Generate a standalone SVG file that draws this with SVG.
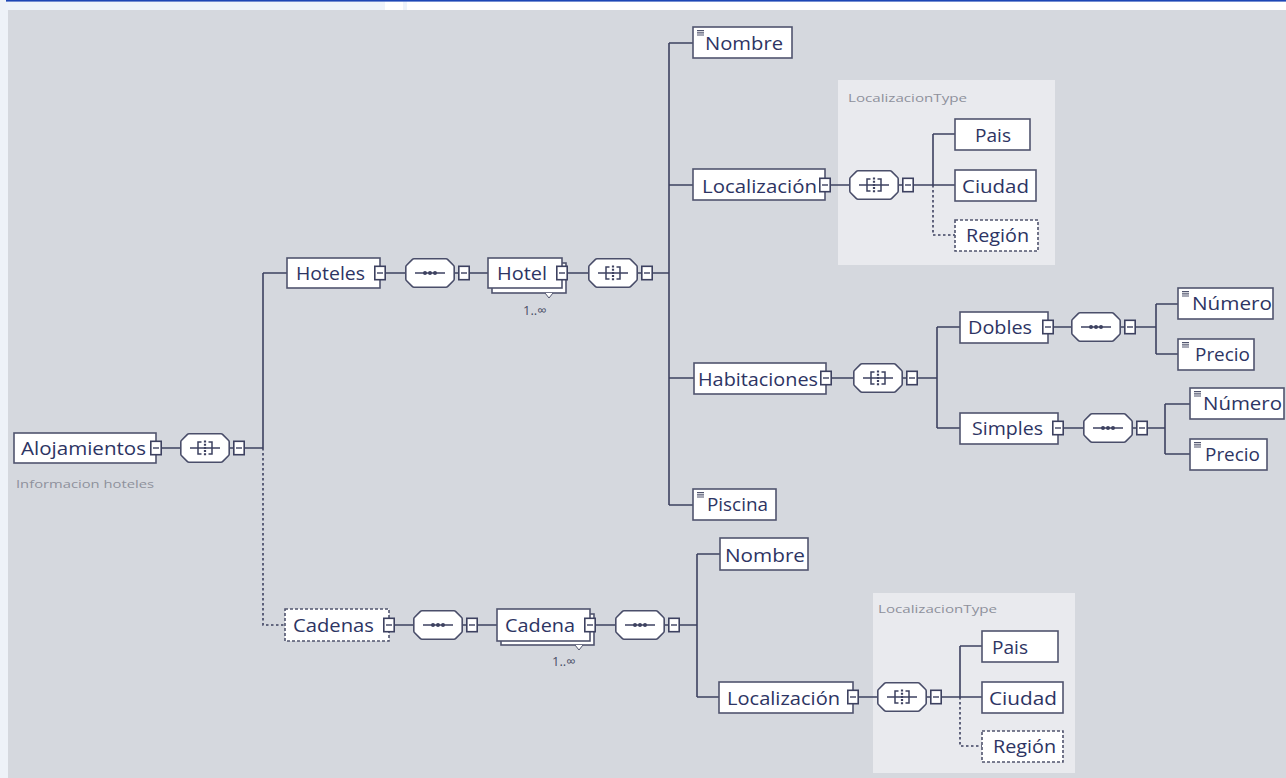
<svg xmlns="http://www.w3.org/2000/svg" xmlns:xlink="http://www.w3.org/1999/xlink" width="1286" height="778" viewBox="0 0 1286 778">
<style>
.bx{fill:#fff;stroke:#50546e;stroke-width:1.6}
.dbx{fill:#fff;stroke:#50546e;stroke-width:1.6;stroke-dasharray:3 2}
.t{font-family:"Open Sans","Noto Sans",sans-serif;font-size:19px;fill:#2d3463}
.sm{font-family:"Open Sans","Noto Sans",sans-serif;font-size:11px;fill:#8e919c}
.mult{font-family:"Open Sans","Noto Sans",sans-serif;font-size:13px;fill:#4a4e66}
.cn{fill:none;stroke:#3d4160;stroke-width:1.6}
.dc{fill:none;stroke:#3d4160;stroke-width:1.6;stroke-dasharray:2.5 2.5}
.oct{fill:#fff;stroke:#4a4e6a;stroke-width:1.6;stroke-linejoin:round}
</style>
<defs>
<symbol id="col" viewBox="0 0 12 15" overflow="visible">
<rect x="0.8" y="0.8" width="10.4" height="13.4" fill="#fff" stroke="#3d4160" stroke-width="1.6"/>
<line x1="3" y1="7.5" x2="9" y2="7.5" stroke="#3d4160" stroke-width="1.4"/>
</symbol>
<symbol id="seq" viewBox="0 0 50 30" overflow="visible">
<path class="oct" d="M9 0.8 H41 Q42 0.8 42.8 1.6 L48.4 7.2 Q49.2 8 49.2 9 V21 Q49.2 22 48.4 22.8 L42.8 28.4 Q42 29.2 41 29.2 H9 Q8 29.2 7.2 28.4 L1.6 22.8 Q0.8 22 0.8 21 V9 Q0.8 8 1.6 7.2 L7.2 1.6 Q8 0.8 9 0.8 Z"/>
<line x1="10" y1="15" x2="40" y2="15" stroke="#3d4160" stroke-width="1.5"/>
<circle cx="20" cy="15" r="2" fill="#3d4160"/><circle cx="25" cy="15" r="2" fill="#3d4160"/><circle cx="30" cy="15" r="2" fill="#3d4160"/>
</symbol>
<symbol id="all" viewBox="0 0 50 30" overflow="visible">
<path class="oct" d="M9 0.8 H41 Q42 0.8 42.8 1.6 L48.4 7.2 Q49.2 8 49.2 9 V21 Q49.2 22 48.4 22.8 L42.8 28.4 Q42 29.2 41 29.2 H9 Q8 29.2 7.2 28.4 L1.6 22.8 Q0.8 22 0.8 21 V9 Q0.8 8 1.6 7.2 L7.2 1.6 Q8 0.8 9 0.8 Z"/>
<line x1="10" y1="15" x2="40" y2="15" stroke="#3d4160" stroke-width="1.5"/>
<path d="M21.5 9 H18 V21 H21.5 M28.5 9 H32 V21 H28.5" fill="none" stroke="#3d4160" stroke-width="1.5"/>
<line x1="25" y1="7.5" x2="25" y2="22.5" stroke="#3d4160" stroke-width="2.2" stroke-dasharray="2 1.2"/>
</symbol>
<symbol id="sim" viewBox="0 0 7 6" overflow="visible">
<path d="M0 0.6 H7 M0 2.8 H7 M0 5 H7" stroke="#50546e" stroke-width="1.2"/>
</symbol>
</defs>

<rect x="0" y="0" width="1286" height="778" fill="#fff"/>
<rect x="0" y="0" width="8" height="778" fill="#eef2f8"/>
<rect x="6" y="1.5" width="379" height="8.5" fill="#eef3fa"/>
<rect x="403" y="1.5" width="4" height="8.5" fill="#eef3fa"/>
<rect x="6" y="0" width="1280" height="1.6" fill="#1d46b5"/>
<rect x="8" y="10" width="1278" height="768" fill="#d5d8de"/>

<rect x="838" y="80" width="217" height="185" fill="#e9eaee"/>
<text class="sm" x="848" y="102" textLength="119" lengthAdjust="spacingAndGlyphs">LocalizacionType</text>
<rect x="873" y="593" width="202" height="180" fill="#e9eaee"/>
<text class="sm" x="878" y="613" textLength="119" lengthAdjust="spacingAndGlyphs">LocalizacionType</text>

<g id="connectors">
<path class="cn" d="M162 448 H180 M230 448 H233 M245 448 H263 M263 273 V448 M263 273 H287"/>
<path class="dc" d="M263 448 V625 H285"/>
<path class="cn" d="M386 273 H405 M455 273 H458 M470 273 H488 M568 273 H588 M638 273 H641 M653 273 H669 M669 43 V505 M669 43 H693 M669 185 H693 M669 378 H694 M669 505 H693"/>
<path class="cn" d="M831 185 H849 M899 185 H902 M914 185 H933 M933 134 V185 M933 134 H955 M933 185 H955"/>
<path class="dc" d="M933 185 V235 H955"/>
<path class="cn" d="M832 378 H853 M903 378 H906 M918 378 H937 M937 327 V428 M937 327 H960 M937 428 H960"/>
<path class="cn" d="M1054 327 H1071 M1121 327 H1124 M1136 327 H1156 M1156 304 V354 M1156 304 H1178 M1156 354 H1178"/>
<path class="cn" d="M1064 428 H1083 M1133 428 H1136 M1148 428 H1165 M1165 404 V454 M1165 404 H1190 M1165 454 H1190"/>
<path class="cn" d="M395 625 H413 M463 625 H466 M478 625 H497 M596 625 H615 M665 625 H668 M680 625 H697 M697 554 V697 M697 554 H720 M697 697 H719"/>
<path class="cn" d="M859 697 H877 M927 697 H930 M942 697 H960 M960 646 V697 M960 646 H982 M960 697 H982"/>
<path class="dc" d="M960 697 V746 H982"/>
</g>

<g id="n-alojamientos">
<rect class="bx" x="14" y="433" width="142" height="30"/>
<text class="t" x="21" y="455" textLength="125" lengthAdjust="spacingAndGlyphs">Alojamientos</text>
<use href="#col" x="150" y="440.5" width="12" height="15"/>
<text class="sm" x="16" y="488" textLength="138" lengthAdjust="spacingAndGlyphs">Informacion hoteles</text>
</g>
<g id="c-alojamientos"><use href="#all" x="180" y="433" width="50" height="30"/><use href="#col" x="233" y="440.5" width="12" height="15"/></g>

<g id="n-hoteles">
<rect class="bx" x="287" y="258" width="93" height="30"/>
<text class="t" x="296" y="280" textLength="69" lengthAdjust="spacingAndGlyphs">Hoteles</text>
<use href="#col" x="374" y="265.5" width="12" height="15"/>
</g>
<g id="c-hoteles"><use href="#seq" x="405" y="258" width="50" height="30"/><use href="#col" x="458" y="265.5" width="12" height="15"/></g>

<g id="n-hotel">
<rect class="bx" x="492" y="263" width="74" height="30"/>
<rect class="bx" x="488" y="258" width="74" height="30"/>
<text class="t" x="497" y="280" textLength="50" lengthAdjust="spacingAndGlyphs">Hotel</text>
<use href="#col" x="556" y="265.5" width="12" height="15"/>
<path d="M545 293 L549 298 L553 293" fill="#fff" stroke="#50546e" stroke-width="1"/>
<text class="mult" x="523" y="315">1..∞</text>
</g>
<g id="c-hotel"><use href="#all" x="588" y="258" width="50" height="30"/><use href="#col" x="641" y="265.5" width="12" height="15"/></g>

<g id="n-nombre">
<rect class="bx" x="693" y="27" width="99" height="31"/>
<use href="#sim" x="697" y="30" width="7" height="6"/>
<text class="t" x="705" y="50" textLength="78" lengthAdjust="spacingAndGlyphs">Nombre</text>
</g>

<g id="n-localizacion">
<rect class="bx" x="693" y="169" width="132" height="31"/>
<text class="t" x="702" y="193" textLength="115" lengthAdjust="spacingAndGlyphs">Localización</text>
<use href="#col" x="819" y="177.5" width="12" height="15"/>
</g>
<g id="c-localizacion"><use href="#all" x="849" y="170" width="50" height="30"/><use href="#col" x="902" y="177.5" width="12" height="15"/></g>
<g id="n-pais"><rect class="bx" x="955" y="119" width="75" height="31"/><text class="t" x="975" y="142" textLength="36" lengthAdjust="spacingAndGlyphs">Pais</text></g>
<g id="n-ciudad"><rect class="bx" x="955" y="170" width="81" height="31"/><text class="t" x="962" y="193" textLength="67" lengthAdjust="spacingAndGlyphs">Ciudad</text></g>
<g id="n-region"><rect class="dbx" x="955" y="220" width="83" height="31"/><text class="t" x="966" y="242" textLength="63" lengthAdjust="spacingAndGlyphs">Región</text></g>

<g id="n-habitaciones">
<rect class="bx" x="694" y="363" width="132" height="31"/>
<text class="t" x="698" y="386" textLength="120" lengthAdjust="spacingAndGlyphs">Habitaciones</text>
<use href="#col" x="820" y="370.5" width="12" height="15"/>
</g>
<g id="c-habitaciones"><use href="#all" x="853" y="363" width="50" height="30"/><use href="#col" x="906" y="370.5" width="12" height="15"/></g>

<g id="n-dobles">
<rect class="bx" x="960" y="312" width="88" height="31"/>
<text class="t" x="968" y="334" textLength="64" lengthAdjust="spacingAndGlyphs">Dobles</text>
<use href="#col" x="1042" y="319.5" width="12" height="15"/>
</g>
<g id="c-dobles"><use href="#seq" x="1071" y="312" width="50" height="30"/><use href="#col" x="1124" y="319.5" width="12" height="15"/></g>
<g id="n-numero1"><rect class="bx" x="1178" y="288" width="95" height="31"/><use href="#sim" x="1182" y="291" width="7" height="6"/><text class="t" x="1192" y="310" textLength="80" lengthAdjust="spacingAndGlyphs">Número</text></g>
<g id="n-precio1"><rect class="bx" x="1178" y="339" width="76" height="31"/><use href="#sim" x="1182" y="342" width="7" height="6"/><text class="t" x="1195" y="361" textLength="55" lengthAdjust="spacingAndGlyphs">Precio</text></g>

<g id="n-simples">
<rect class="bx" x="960" y="413" width="98" height="31"/>
<text class="t" x="972" y="435" textLength="71" lengthAdjust="spacingAndGlyphs">Simples</text>
<use href="#col" x="1052" y="420.5" width="12" height="15"/>
</g>
<g id="c-simples"><use href="#seq" x="1083" y="413" width="50" height="30"/><use href="#col" x="1136" y="420.5" width="12" height="15"/></g>
<g id="n-numero2"><rect class="bx" x="1190" y="388" width="94" height="31"/><use href="#sim" x="1194" y="391" width="7" height="6"/><text class="t" x="1203" y="410" textLength="79" lengthAdjust="spacingAndGlyphs">Número</text></g>
<g id="n-precio2"><rect class="bx" x="1190" y="439" width="77" height="31"/><use href="#sim" x="1194" y="442" width="7" height="6"/><text class="t" x="1205" y="461" textLength="55" lengthAdjust="spacingAndGlyphs">Precio</text></g>

<g id="n-piscina"><rect class="bx" x="693" y="489" width="83" height="31"/><use href="#sim" x="697" y="492" width="7" height="6"/><text class="t" x="707" y="511" textLength="61" lengthAdjust="spacingAndGlyphs">Piscina</text></g>

<g id="n-cadenas">
<rect class="dbx" x="285" y="609" width="104" height="32"/>
<text class="t" x="293" y="632" textLength="81" lengthAdjust="spacingAndGlyphs">Cadenas</text>
<use href="#col" x="383" y="617.5" width="12" height="15"/>
</g>
<g id="c-cadenas"><use href="#seq" x="413" y="610" width="50" height="30"/><use href="#col" x="466" y="617.5" width="12" height="15"/></g>

<g id="n-cadena">
<rect class="bx" x="501" y="614" width="93" height="31"/>
<rect class="bx" x="497" y="609" width="93" height="32"/>
<text class="t" x="505" y="632" textLength="70" lengthAdjust="spacingAndGlyphs">Cadena</text>
<use href="#col" x="584" y="617.5" width="12" height="15"/>
<path d="M575 645 L579 650 L583 645" fill="#fff" stroke="#50546e" stroke-width="1"/>
<text class="mult" x="552" y="666">1..∞</text>
</g>
<g id="c-cadena"><use href="#seq" x="615" y="610" width="50" height="30"/><use href="#col" x="668" y="617.5" width="12" height="15"/></g>

<g id="n-nombre2"><rect class="bx" x="720" y="538" width="88" height="32"/><text class="t" x="725" y="562" textLength="80" lengthAdjust="spacingAndGlyphs">Nombre</text></g>

<g id="n-localizacion2">
<rect class="bx" x="719" y="682" width="134" height="31"/>
<text class="t" x="727" y="705" textLength="113" lengthAdjust="spacingAndGlyphs">Localización</text>
<use href="#col" x="847" y="689.5" width="12" height="15"/>
</g>
<g id="c-localizacion2"><use href="#all" x="877" y="682" width="50" height="30"/><use href="#col" x="930" y="689.5" width="12" height="15"/></g>
<g id="n-pais2"><rect class="bx" x="982" y="631" width="76" height="31"/><text class="t" x="992" y="654" textLength="36" lengthAdjust="spacingAndGlyphs">Pais</text></g>
<g id="n-ciudad2"><rect class="bx" x="982" y="682" width="81" height="31"/><text class="t" x="989" y="705" textLength="68" lengthAdjust="spacingAndGlyphs">Ciudad</text></g>
<g id="n-region2"><rect class="dbx" x="982" y="731" width="81" height="31"/><text class="t" x="993" y="753" textLength="63" lengthAdjust="spacingAndGlyphs">Región</text></g>
</svg>
